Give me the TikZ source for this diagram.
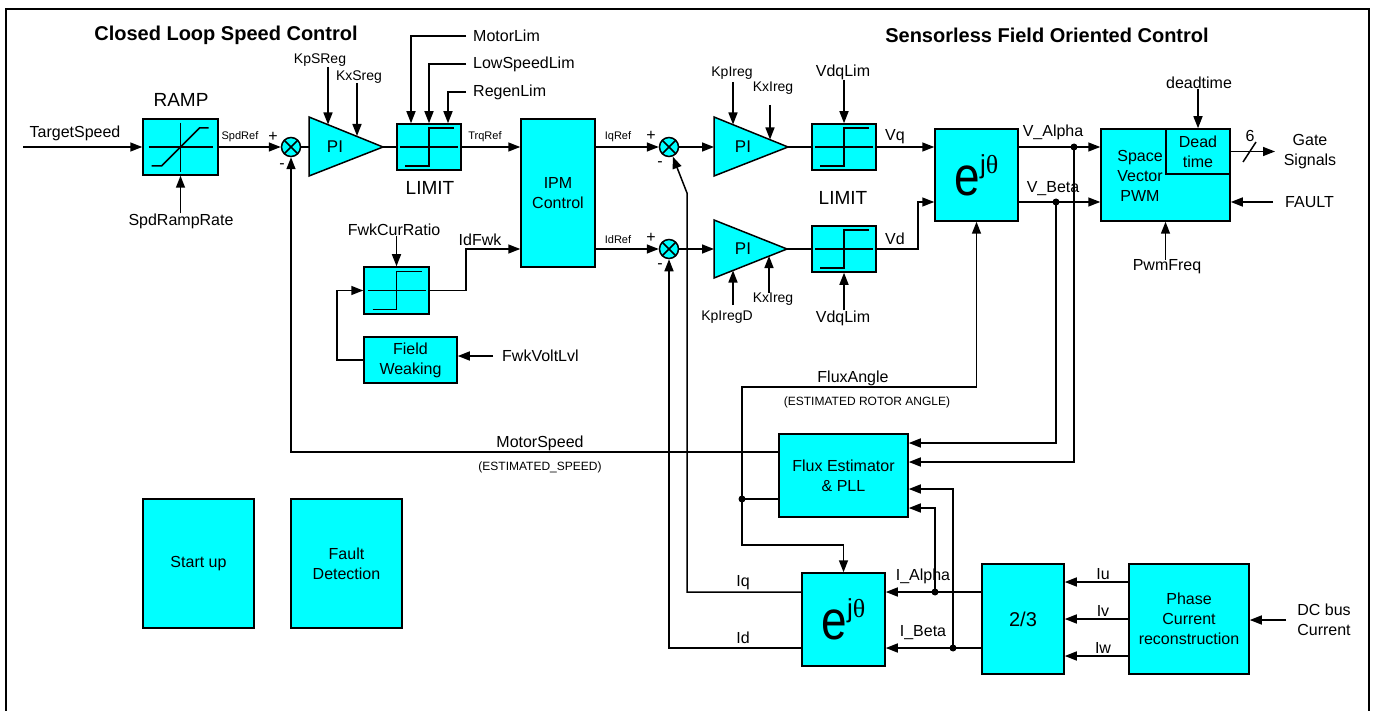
\documentclass[tikz,border=0pt]{standalone}
\usepackage{fontspec}
\usepackage{graphicx}
\setmainfont{Liberation Sans}
\newfontfamily\grkfont{Liberation Serif}
\usetikzlibrary{arrows.meta,calc}
\definecolor{blkcyan}{RGB}{0,255,255}
\newcommand\ejt{{\fontsize{46}{46}\selectfont\scalebox{1}[1.2]{e}}\raisebox{22pt}{\fontsize{26}{26}\selectfont j{\grkfont θ}}}
\tikzset{
  blk/.style={draw, fill=blkcyan, line width=1.5pt, inner sep=0pt, align=center,
    font=\fontsize{16}{20}\selectfont},
  limblk/.style={blk, minimum width=64pt, minimum height=46pt,
    path picture={
      \draw[line width=1.5pt] ($(path picture bounding box.center)+(-29pt,0pt)$) -- ++(58pt,0pt);
      \draw[line width=1.5pt] ($(path picture bounding box.center)+(-24pt,-19pt)$) -- ++(24pt,0pt) -- ++(0pt,38pt) -- ++(25pt,0pt);}},
  rampblk/.style={blk, minimum width=75pt, minimum height=56pt,
    path picture={
      \draw[line width=1.5pt] ($(path picture bounding box.center)+(-32pt,0pt)$) -- ++(64pt,0pt);
      \draw[line width=1.5pt] ($(path picture bounding box.center)+(0pt,24pt)$) -- ++(0pt,-49pt);
      \draw[line width=1.5pt] ($(path picture bounding box.center)+(-29pt,-19pt)$) -- ++(10pt,0pt) -- ++(38pt,38pt) -- ++(9pt,0pt);}},
  sumj/.style={circle, draw, fill=blkcyan, line width=1.5pt, minimum size=19pt, inner sep=0pt,
    path picture={\draw[line width=1.5pt] (path picture bounding box.north west) -- (path picture bounding box.south east)
      (path picture bounding box.south west) -- (path picture bounding box.north east);}},
  amp/.style={draw, fill=blkcyan, line width=1.5pt},
  wire/.style={line width=1.5pt},
  arr/.style={wire, -{Triangle[length=12pt,width=9pt]}},
  dotj/.style={circle, fill, inner sep=0pt, minimum size=7pt},
  lbl/.style={inner sep=0pt, align=center, font=\fontsize{16}{20}\selectfont},
  pil/.style={inner sep=0pt, font=\fontsize{17}{20}\selectfont},
  sml/.style={inner sep=0pt, font=\fontsize{11}{13}\selectfont},
  note/.style={inner sep=0pt, font=\fontsize{12}{14}\selectfont},
  gain/.style={inner sep=0pt, font=\fontsize{14}{16}\selectfont},
  big/.style={inner sep=0pt, font=\fontsize{19}{22}\selectfont},
  ttl/.style={inner sep=0pt, font=\bfseries\fontsize{20}{24}\selectfont},
}
\begin{document}
\begin{tikzpicture}[x=1pt,y=-1pt]
\useasboundingbox (0,0) rectangle (1375,711);
\fill[white] (0,0) rectangle (1375,711);
\draw[line width=2.4pt] (6,720) -- (6,9) -- (1369,9) -- (1369,720);
\node[ttl] (ttla) at (226,35) {Closed Loop Speed Control};
\node[ttl] (ttlb) at (1047,35) {Sensorless Field Oriented Control};

\node[rampblk] (ramp) at (180.5,147) {};
\node[big] (rampl) at (181,100) {RAMP};
\node[lbl] (tsp) at (75,133) {TargetSpeed};
\coordinate (tsin) at (23,147);
\draw[arr] (tsin) -- (ramp.west);
\node[lbl] (srr) at (181,221) {SpdRampRate};
\draw[arr] (srr.north -| ramp.south) -- (ramp.south);

\node[sumj] (s1) at (291,147) {};
\node[sml] (spdref) at (240,137) {SpdRef};
\draw[arr] (ramp.east) -- (s1.west);
\node[lbl] (s1p) at (273,137) {+};
\node[lbl] (s1m) at (282,166) {-};
\draw[amp] (309,117) -- (383,147) -- (309,176) -- cycle;
\coordinate (pi1i) at (309,147);
\coordinate (pi1o) at (383,147);
\node[pil] (pi1) at (335,147) {PI};
\draw[wire] (s1.east) -- (pi1i);
\node[gain] (kps) at (320,60) {KpSReg};
\node[gain] (kxs) at (359,77) {KxSreg};
\coordinate (kpsa) at (328,124.5);
\coordinate (kxsa) at (357,136);
\draw[arr] ([yshift=57.5pt]kpsa) -- (kpsa);
\draw[arr] ([yshift=53pt]kxsa) -- (kxsa);

\node[limblk] (lim1) at (429,147) {};
\node[big] (lim1l) at (430,188) {LIMIT};
\draw[wire] (pi1o) -- (lim1.west);
\node[lbl, anchor=west] (mlim) at (473,36) {MotorLim};
\node[lbl, anchor=west] (lslim) at (473,64) {LowSpeedLim};
\node[lbl, anchor=west] (rglim) at (473,92) {RegenLim};
\draw[arr] ([xshift=-7pt]mlim.west) -| ([xshift=-18pt]lim1.north);
\draw[arr] ([xshift=-7pt]lslim.west) -| (lim1.north);
\draw[arr] ([xshift=-7pt]rglim.west) -| ([xshift=19pt]lim1.north);

\node[blk, minimum width=74pt, minimum height=148pt] (ipm) at (558,193) {IPM\\Control};
\node[sml] (trq) at (485,137) {TrqRef};
\draw[arr] (lim1.east) -- (lim1.east -| ipm.west);

\node[limblk, minimum width=65pt, minimum height=47pt] (limf) at (396.5,290.5) {};
\node[lbl] (fcr) at (394,230) {FwkCurRatio};
\draw[arr] (fcr.south -| limf.north) -- (limf.north);
\node[blk, minimum width=93pt, minimum height=46pt] (fwk) at (410.5,360) {Field\\Weaking};
\coordinate (fwl) at (337,360);
\draw[arr] (fwk.west) -- (fwl) |- (limf.west);
\node[lbl, anchor=west] (fvl) at (502,356) {FwkVoltLvl};
\draw[arr] ([xshift=-9pt]fvl.west) -- (fvl.west -| fwk.east);
\coordinate (fwkb) at (466,249);
\node[lbl] (idfwk) at (480,240) {IdFwk};
\draw[arr] (limf.east) -| (fwkb) -- (fwkb -| ipm.west);

\node[sumj] (s2) at (669,147) {};
\node[sumj] (s3) at (669,249) {};
\node[sml] (iqref) at (618,137) {IqRef};
\node[sml] (idref) at (618,240) {IdRef};
\draw[arr] (ipm.east |- s2) -- (s2.west);
\draw[arr] (ipm.east |- s3) -- (s3.west);
\node[lbl] (s2p) at (651,136) {+};
\node[lbl] (s2m) at (660,164) {-};
\node[lbl] (s3p) at (651,238) {+};
\node[lbl] (s3m) at (660,266) {-};

\draw[amp] (714,117) -- (788,147) -- (714,176) -- cycle;
\draw[amp] (714,220) -- (787,249) -- (714,278) -- cycle;
\coordinate (pi2i) at (714,147);
\coordinate (pi2o) at (788,147);
\coordinate (pi3i) at (714,249);
\coordinate (pi3o) at (787,249);
\node[pil] (pi2) at (743,147) {PI};
\node[pil] (pi3) at (743,249) {PI};
\draw[arr] (s2.east) -- (pi2i);
\draw[arr] (s3.east) -- (pi3i);
\node[gain] (kpi) at (732,73) {KpIreg};
\node[gain] (kxi) at (773,88) {KxIreg};
\node[gain] (kpd) at (727,317) {KpIregD};
\node[gain] (kxd) at (773,299) {KxIreg};
\coordinate (kpia) at (733,124.5);
\coordinate (kxia) at (770,139.5);
\coordinate (kpda) at (733,270.5);
\coordinate (kxda) at (769,256);
\draw[arr] ([yshift=42.5pt]kpia) -- (kpia);
\draw[arr] ([yshift=34.5pt]kxia) -- (kxia);
\draw[arr] ([yshift=-34.5pt]kpda) -- (kpda);
\draw[arr] ([yshift=-37pt]kxda) -- (kxda);

\node[limblk] (lim2) at (844,147) {};
\node[limblk] (lim3) at (844,249) {};
\node[big] (lim2l) at (843,198) {LIMIT};
\draw[wire] (pi2o) -- (lim2.west);
\draw[wire] (pi3o) -- (lim3.west);
\node[lbl] (vdq1) at (843,72) {VdqLim};
\node[lbl] (vdq2) at (843,318) {VdqLim};
\draw[arr] (vdq1.south -| lim2.north) -- (lim2.north);
\draw[arr] (vdq2.north -| lim3.south) -- (lim3.south);

\node[blk, minimum width=83pt, minimum height=92pt] (rot1) at (976.5,175) {\ejt};
\node[lbl] (vq) at (895,137) {Vq};
\node[lbl] (vd) at (895,239) {Vd};
\node[dotj] (va) at (1074,147) {};
\node[dotj] (vb) at (1056,202) {};
\coordinate (vdb) at (918,249);
\draw[arr] (lim2.east) -- (lim2.east -| rot1.west);
\draw[arr] (lim3.east) -- (vdb) |- (rot1.west |- vb);

\node[blk, minimum width=129pt, minimum height=92pt] (svm) at (1165.5,175) {};
\node[lbl] (svmt) at (1140,176) {Space\\Vector\\PWM};
\node[blk, minimum width=64pt, minimum height=45pt] (dtm) at (1198,151.5) {Dead\\time};
\node[lbl] (valpha) at (1053,132) {V\_Alpha};
\node[lbl] (vbeta) at (1053,189) {V\_Beta};
\draw[arr] (rot1.east |- va) -- (va.center) -- (svm.west |- va);
\draw[arr] (rot1.east |- vb) -- (vb.center) -- (svm.west |- vb);
\node[lbl] (dtl) at (1199,83) {deadtime};
\draw[arr] (dtl.south -| dtm.north) -- (dtm.north);
\coordinate (gate) at (1275,151.5);
\draw[arr] (dtm.east) -- (gate);
\draw[wire] (1243,162) -- (1256,142);
\node[lbl] (six) at (1250,136) {6};
\node[lbl] (gsig) at (1310,152) {Gate\\Signals};
\node[lbl, anchor=west] (flt) at (1285,202) {FAULT};
\draw[arr] ([xshift=-12pt]flt.west) -- (flt.west -| svm.east);
\node[lbl] (pwm) at (1167,267) {PwmFreq};
\draw[arr] (pwm.north -| svm.south) -- (svm.south);

\node[blk, minimum width=129pt, minimum height=83pt] (flux) at (843.5,475.5) {Flux Estimator\\\& PLL};
\node[dotj] (fa) at (742,499) {};
\coordinate (fab) at (742,387);
\coordinate (fac) at (742,545);
\draw[wire] (flux.west |- fa) -- (fa.center);
\draw[arr] (fa.center) -- (fab) -| (rot1.south);
\node[lbl] (fang) at (853,378) {FluxAngle};
\node[note] (fangn) at (867,402) {(ESTIMATED ROTOR ANGLE)};
\coordinate (msb) at (291,452);
\draw[arr] ([yshift=23.5pt]flux.west) -- (msb) -- (s1.south);
\node[lbl] (mspd) at (540,443) {MotorSpeed};
\node[note] (mspdn) at (540,467) {(ESTIMATED\_SPEED)};
\draw[arr] (vb.center) |- ([yshift=32.5pt]flux.east);
\draw[arr] (va.center) |- ([yshift=13.5pt]flux.east);

\node[blk, minimum width=83pt, minimum height=93pt] (rot2) at (843.5,619.5) {\ejt};
\draw[arr] (fa.center) -- (fac) -| (rot2.north);
\node[blk, minimum width=82pt, minimum height=110pt, font=\fontsize{20}{24}\selectfont] (conv) at (1023,619) {2/3};
\node[dotj] (ia) at (935,592) {};
\node[dotj] (ib) at (953,648) {};
\draw[arr] (conv.west |- ia) -- (ia.center) -- (rot2.east |- ia);
\draw[arr] (conv.west |- ib) -- (ib.center) -- (rot2.east |- ib);
\draw[arr] (ia.center) |- ([yshift=-32.5pt]flux.east);
\draw[arr] (ib.center) |- ([yshift=-13.5pt]flux.east);
\node[lbl] (ial) at (923,576) {I\_Alpha};
\node[lbl] (ibl) at (923,633) {I\_Beta};
\coordinate (iqb) at (687,592);
\coordinate (iqt) at (687,193);
\coordinate (idb) at (669,648);
\draw[arr] (rot2.west |- ia) -- (iqb) -- (iqt) -- (s2);
\draw[arr] (rot2.west |- ib) -- (idb) -- (s3.south);
\node[lbl] (iql) at (743,583) {Iq};
\node[lbl] (idl) at (743,638) {Id};

\node[blk, minimum width=120pt, minimum height=110pt] (phase) at (1189,619) {Phase\\Current\\reconstruction};
\draw[arr] ([yshift=37pt]phase.west) -- ([yshift=37pt]conv.east);
\draw[arr] (phase.west) -- (conv.east);
\draw[arr] ([yshift=-37pt]phase.west) -- ([yshift=-37pt]conv.east);
\node[lbl] (iul) at (1103,574) {Iu};
\node[lbl] (ivl) at (1103,611) {Iv};
\node[lbl] (iwl) at (1103,648) {Iw};
\node[lbl] (dcb) at (1324,620) {DC bus\\Current};
\draw[arr] ([xshift=-11pt]dcb.west) -- (dcb.west -| phase.east);

\node[blk, minimum width=111pt, minimum height=129pt] (start) at (198.5,563.5) {Start up};
\node[blk, minimum width=111pt, minimum height=129pt] (fault) at (346.5,563.5) {Fault\\Detection};
\end{tikzpicture}
\end{document}
